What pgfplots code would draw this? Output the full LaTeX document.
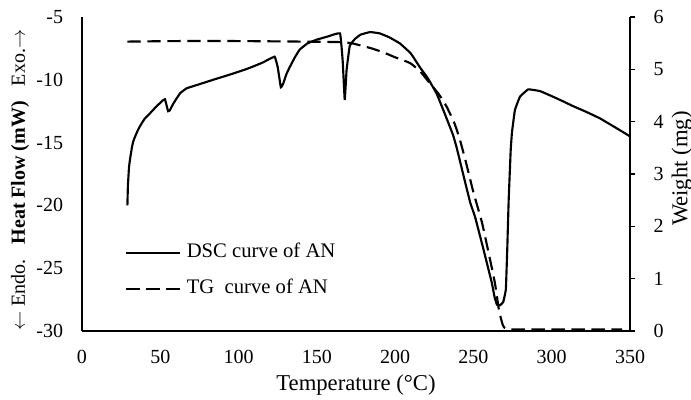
\documentclass[border=0pt]{standalone}
\usepackage{fontspec}
\setmainfont{Liberation Serif}
\usepackage{pgfplots}
\pgfplotsset{compat=1.18}
\begin{document}
\begin{tikzpicture}
\pgfplotsset{
  common/.style={
    scale only axis, width=411pt, height=235.5pt,
    xmin=0, xmax=350,
    /pgf/number format/assume math mode=true,
    every tick label/.append style={font=\fontsize{15}{15}\selectfont},
    axis line style={-, line width=0.8pt, black},
    label style={font=\fontsize{17}{17}\selectfont},
  }
}
\begin{axis}[common,
  ymin=-30, ymax=-5,
  axis x line*=bottom, axis y line*=left,
  xtick={0,50,...,350}, ytick={-30,-25,...,-5},
  major tick length=0pt,
  xticklabel style={anchor=base, inner sep=0pt, yshift=-24pt},
  yticklabel style={anchor=east, inner sep=0pt, xshift=-14pt},
  xlabel={Temperature (°C)},
  xlabel style={at={([yshift=-40.5pt]axis description cs:0.5,0)}, anchor=center},
  ylabel={$\leftarrow$~Endo.~\ ~\textbf{Heat Flow (mW)}~\ ~Exo.$\rightarrow$},
  ylabel style={at={([xshift=-46.5pt]axis description cs:0,0.48)}, anchor=center, font=\fontsize{15}{15}\selectfont},
  legend style={draw=none, fill=none, inner sep=0pt, at={(0.0785,0.276)}, anchor=north west,
    font=\fontsize{15.5}{15.5}\selectfont, row sep=14pt, column sep=4.5pt,
    nodes={inner sep=0pt, text height=10pt, text depth=3pt}},
  legend cell align=left,
  legend image code/.code={\draw[#1] (0pt,0pt) -- (40pt,0pt);},
]
\addplot[black, line width=1.6pt, smooth, tension=0.15] coordinates {
(29,-20.0) (29.3,-18.5) (30,-17.0) (30.7,-16.3) (32,-15.3) (33,-14.8) (35,-14.2) (37,-13.7)
(40,-13.1) (43.4,-12.67) (47.7,-12.1) (52,-11.6) (53,-11.55) (55,-12.5) (56,-12.45) (58.3,-11.9)
(62.6,-11.08) (66.8,-10.68) (75,-10.35) (85,-9.95) (96.6,-9.5) (105,-9.15) (115,-8.65) (123,-8.16)
(125,-9.0) (127,-10.6) (128.5,-10.3) (130.7,-9.5) (132.8,-8.96) (136,-8.2) (139,-7.6) (144,-7.1)
(150,-6.8) (157,-6.55) (164.8,-6.3) (166.5,-8.5) (167.8,-11.6) (169,-9.2) (171,-7.3) (174.3,-6.75)
(178,-6.4) (184,-6.2) (190,-6.3) (196,-6.6) (203,-7.1) (210,-7.9) (215.8,-9.0) (221,-9.9)
(226.5,-11.1) (232,-12.8) (237,-14.4) (239.5,-15.5) (244,-17.8) (248,-19.8) (251,-20.9)
(256,-23.3) (261.8,-26.2) (263.5,-27.3) (265,-27.9) (267,-27.95) (269,-27.7) (270.7,-26.7)
(271.6,-23.5) (272.5,-19.6) (273.8,-15.6) (274.6,-14.2) (276.5,-12.4) (279.7,-11.35) (285,-10.76)
(292.5,-10.9) (300,-11.3) (307,-11.7) (313.7,-12.1) (322,-12.55) (330.8,-13.07) (340,-13.75) (350,-14.5)
};
\addlegendentry{DSC curve of AN}
\addlegendimage{black, line width=1.6pt, dash pattern=on 10pt off 5pt}
\addlegendentry{TG\ \ curve of AN}
\coordinate (ll) at (rel axis cs:0,0);
\end{axis}
\begin{axis}[common,
  ymin=0, ymax=6,
  axis x line=none, axis y line*=right,
  ytick={0,1,...,6},
  tick align=outside, major tick length=4pt,
  tick style={black, line width=0.8pt},
  yticklabel style={anchor=west, inner sep=0pt, xshift=13.5pt},
  ylabel={Weight (mg)},
  ylabel style={at={([xshift=39pt]axis description cs:1,0.517)}, anchor=center},
]
\addplot[black, line width=1.6pt, dash pattern=on 10pt off 5pt, smooth, tension=0.3] coordinates {
(29,5.53) (60,5.54) (100,5.54) (140,5.53) (165,5.52) (172,5.5) (177.5,5.46) (185,5.40)
(192,5.33) (200,5.23) (209.5,5.12) (216,4.96) (222,4.74) (228,4.52) (233,4.28) (238,3.96)
(241.4,3.65) (245,3.25) (250,2.65) (255.4,2.08) (260,1.45) (263.7,0.92) (266.3,0.40)
(268.8,0.11) (271,0.04) (280,0.03) (345,0.03)
};
\end{axis}
\pgfresetboundingbox
\path (ll) ++(-61.5pt,-51pt) rectangle ++(518.25pt,299.25pt);
\end{tikzpicture}
\end{document}
